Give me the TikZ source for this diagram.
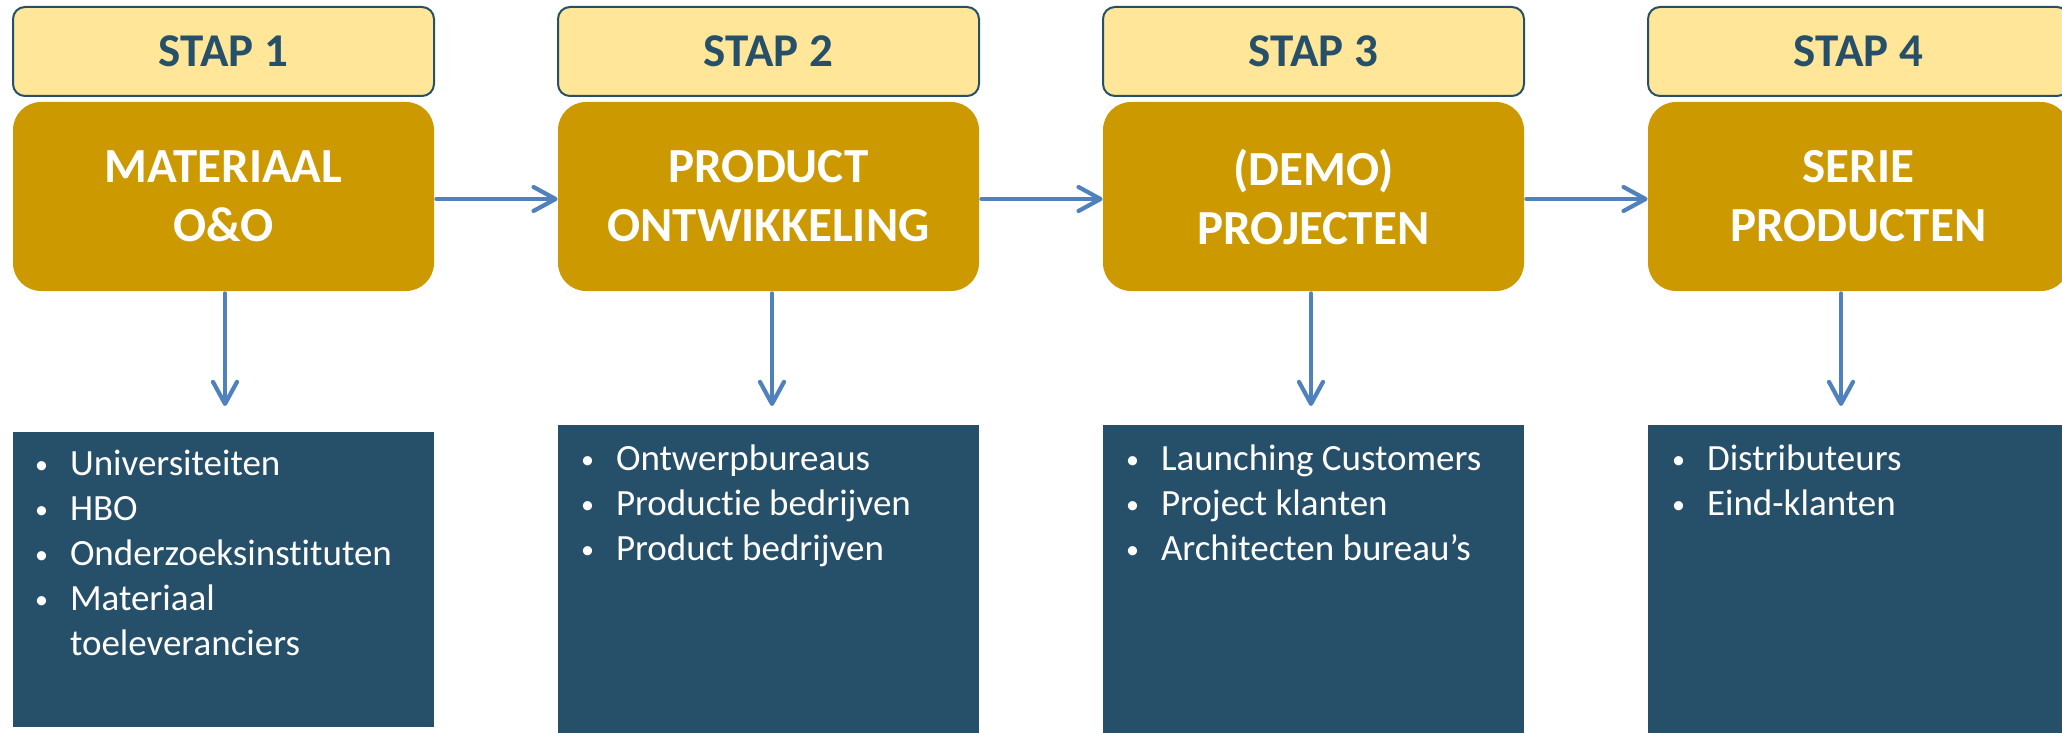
\documentclass[tikz,border=0pt]{standalone}
\usepackage{fontspec}
\setmainfont{Carlito}[Ligatures=NoCommon]
\usetikzlibrary{arrows.meta,calc}
\definecolor{stapfill}{HTML}{FFE699}
\definecolor{darkblue}{HTML}{264F6A}
\definecolor{gold}{HTML}{CC9900}
\definecolor{arrowblue}{HTML}{4F81BD}
\begin{document}
\begin{tikzpicture}[x=0.5pt,y=-0.5pt,
  stapbox/.style={draw=darkblue, line width=1pt, fill=stapfill, rounded corners=6pt,
    minimum width=210.5pt, minimum height=44.5pt, inner sep=0pt,
    text=darkblue, font=\bfseries\fontsize{23.5}{28}\selectfont},
  goldbox/.style={fill=gold, rounded corners=14pt, minimum width=210.5pt,
    minimum height=94.5pt, inner sep=0pt, text=white, align=center,
    font=\bfseries\fontsize{24.5}{29.5}\selectfont},
  bluebox/.style={fill=darkblue, minimum width=210.5pt, inner sep=0pt},
  listtxt/.style={anchor=base west, inner sep=0pt, text=white,
    font=\fontsize{18.5}{22.5}\selectfont},
  arr/.style={draw=arrowblue, line width=2.1pt, line cap=round,
    -{Straight Barb[length=11pt,width=12pt,line cap=round,line join=round]}}
]
\useasboundingbox (0,0) rectangle (2062,733);
\newcommand{\bul}{\llap{\makebox[17.5pt][l]{\raisebox{0.9pt}{\fontsize{13}{13}\selectfont\textbullet}}}}
% STAP headers
\node[stapbox] (s1) at (223.5,51.5) {STAP 1};
\node[stapbox] (s2) at (768.5,51.5) {STAP 2};
\node[stapbox] (s3) at (1313.5,51.5) {STAP 3};
\node[stapbox] (s4) at (1858.5,51.5) {STAP 4};
% gold boxes
\node[goldbox] (g1) at (223.5,196.5) {MATERIAAL\\O\&O};
\node[goldbox] (g2) at (768.5,196.5) {PRODUCT\\ONTWIKKELING};
\node[goldbox] (g3) at (1313.5,196.5) {(DEMO)\\PROJECTEN};
\node[goldbox] (g4) at (1858.5,196.5) {SERIE\\PRODUCTEN};
% blue boxes
\node[bluebox, minimum height=147.5pt] (b1) at (223.5,579.5) {};
\node[bluebox, minimum height=160pt] (b2) at (768.5,585) {};
\node[bluebox, minimum height=160pt] (b3) at (1313.5,585) {};
\node[bluebox, minimum height=160pt] (b4) at (1858.5,585) {};
% lists
\node[listtxt] (t1) at ($(b1.north west)+(57,44)$) {\begin{tabular}[t]{@{}l@{}}
\bul Universiteiten\\ \bul HBO\\ \bul Onderzoeksinstituten\\ \bul Materiaal\\ toeleveranciers
\end{tabular}};
\node[listtxt] (t2) at ($(b2.north west)+(58,46)$) {\begin{tabular}[t]{@{}l@{}}
\bul Ontwerpbureaus\\ \bul Productie bedrijven\\ \bul Product bedrijven
\end{tabular}};
\node[listtxt] (t3) at ($(b3.north west)+(58,46)$) {\begin{tabular}[t]{@{}l@{}}
\bul Launching Customers\\ \bul Project klanten\\ \bul Architecten bureau’s
\end{tabular}};
\node[listtxt] (t4) at ($(b4.north west)+(59,46)$) {\begin{tabular}[t]{@{}l@{}}
\bul Distributeurs\\ \bul Eind-klanten
\end{tabular}};
% arrow end points
\coordinate (d1) at (225,406);
\coordinate (d2) at (772,406);
\coordinate (d3) at (1311,406);
\coordinate (d4) at (1841,406);
% horizontal arrows
\draw[arr] ([xshift=1pt,yshift=-1.25pt]g1.east) -- ([yshift=-1.25pt]g2.west);
\draw[arr] ([xshift=1pt,yshift=-1.25pt]g2.east) -- ([yshift=-1.25pt]g3.west);
\draw[arr] ([xshift=1pt,yshift=-1.25pt]g3.east) -- ([yshift=-1.25pt]g4.west);
% down arrows
\draw[arr] ([yshift=-1pt]d1 |- g1.south) -- (d1);
\draw[arr] ([yshift=-1pt]d2 |- g2.south) -- (d2);
\draw[arr] ([yshift=-1pt]d3 |- g3.south) -- (d3);
\draw[arr] ([yshift=-1pt]d4 |- g4.south) -- (d4);
\end{tikzpicture}
\end{document}
